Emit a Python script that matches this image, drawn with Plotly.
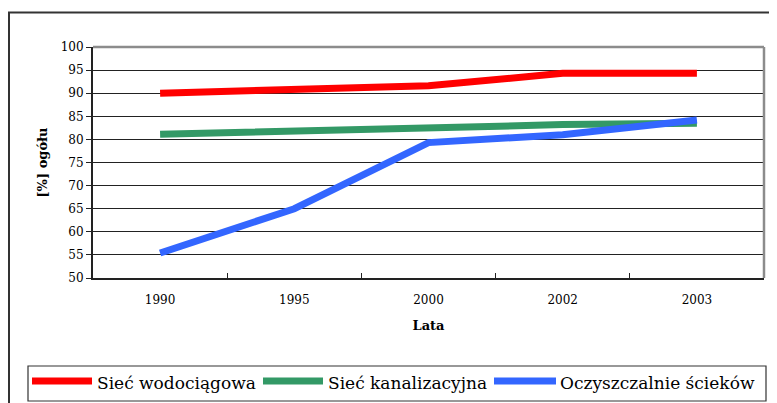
import plotly.graph_objects as go

years = ["1990", "1995", "2000", "2002", "2003"]
series_names = ["Sieć wodociągowa", "Sieć kanalizacyjna", "Oczyszczalnie ścieków"]
water = [90.0, 90.9, 91.6, 94.3, 94.3]
sewer = [81.1, 81.8, 82.7, 83.2, 83.5]
treatment = [55.4, 65.0, 79.3, 81.0, 84.2]
colors = ["#FF0000", "#339966", "#3366FF"]
y_ticks = list(range(50, 101, 5))

OFF = 8  # page body margin
W, H = 777 - OFF, 403 - OFF
L, R, T, B = 93 - OFF, 764 - OFF, 47 - OFF, 278 - OFF  # plot area in figure pixels


def px(x):
    return (x - OFF - L) / (R - L)


def py(y):
    return (B - (y - OFF)) / (B - T)


fig = go.Figure()
for name, vals, col in zip(series_names, [water, sewer, treatment], colors):
    fig.add_trace(go.Scatter(x=years, y=vals, name=name, mode="lines",
                             line=dict(color=col, width=7), showlegend=False))

font = "DejaVu Serif"
shapes = []
annotations = []
shapes.append(dict(type="rect", xref="paper", yref="paper", x0=px(9), x1=px(800),
                   y0=py(430), y1=py(12.5), line=dict(color="#333333", width=2)))
shapes.append(dict(type="line", xref="paper", yref="paper", x0=0, x1=1, y0=1, y1=1,
                   line=dict(color="#8c8c8c", width=2.5)))
shapes.append(dict(type="line", xref="paper", yref="paper", x0=1, x1=1, y0=0, y1=1,
                   line=dict(color="#8c8c8c", width=2.5)))
shapes.append(dict(type="rect", xref="paper", yref="paper", x0=px(28), x1=px(766),
                   y0=py(401), y1=py(366), line=dict(color="#333333", width=1.2),
                   fillcolor="white", layer="below"))
leg_items = [(32, 92, 95), (263, 323, 326), (494, 556, 558)]
for (a, b, t), name, col in zip(leg_items, series_names, colors):
    shapes.append(dict(type="line", xref="paper", yref="paper", x0=px(a), x1=px(b),
                       y0=py(381), y1=py(381), line=dict(color=col, width=7)))
    annotations.append(dict(text=name, xref="paper", yref="paper", x=px(t), y=py(383),
                            xanchor="left", yanchor="middle", showarrow=False,
                            font=dict(family=font, size=17, color="black")))

fig.update_layout(
    width=W, height=H,
    margin=dict(l=L, r=W - R, t=T, b=H - B, pad=0),
    paper_bgcolor="white", plot_bgcolor="white",
    shapes=shapes, annotations=annotations,
    font=dict(family=font, color="black"),
    xaxis=dict(type="category", range=[-0.5, 4.5], tickson="boundaries",
               ticks="inside", ticklen=5, tickwidth=1.2, tickcolor="#222",
               showline=True, linecolor="#222", linewidth=2, showgrid=False,
               ticklabelstandoff=10,
               tickfont=dict(family=font, size=12, color="black"),
               title=dict(text="<b>Lata</b>", font=dict(family=font, size=13), standoff=14)),
    yaxis=dict(range=[50, 100], tickvals=y_ticks, ticks="outside", ticklen=5,
               tickwidth=1.2, tickcolor="#222",
               showline=True, linecolor="#222", linewidth=2,
               showgrid=True, gridcolor="#222", gridwidth=1.3, zeroline=False,
               tickfont=dict(family=font, size=12, color="black"),
               title=dict(text="<b>[%] ogółu</b>", font=dict(family=font, size=13), standoff=10)),
)

fig.write_html("out.html")
